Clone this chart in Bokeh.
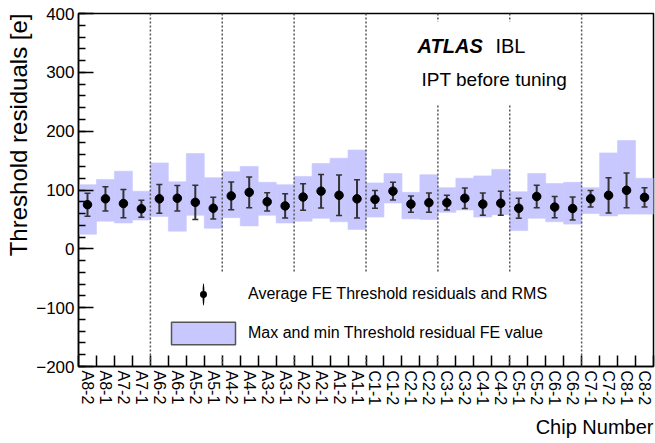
import math
from bokeh.plotting import figure
from bokeh.models import (Range1d, FixedTicker, SingleIntervalTicker, Span,
                          BoxAnnotation, Label, Legend, LegendItem, Title)
from bokeh.embed import file_html
from bokeh.resources import INLINE

# ---------------- data ----------------
chips = ["A8-2", "A8-1", "A7-2", "A7-1", "A6-2", "A6-1", "A5-2", "A5-1",
         "A4-2", "A4-1", "A3-2", "A3-1", "A2-2", "A2-1", "A1-2", "A1-1",
         "C1-1", "C1-2", "C2-1", "C2-2", "C3-1", "C3-2", "C4-1", "C4-2",
         "C5-1", "C5-2", "C6-1", "C6-2", "C7-1", "C7-2", "C8-1", "C8-2"]
mean_res = [75, 85, 77, 68, 85, 86, 79, 69,
            90, 96, 80, 73, 88, 98, 91, 85,
            84, 98, 76, 78.5, 78.5, 86, 76, 77.5,
            69, 89, 71, 68.5, 85, 91, 99.5, 87.5]
rms_res = [19.5, 20.5, 24, 14.5, 24.5, 21.5, 29, 18.5,
           23.5, 26, 15.5, 20.5, 22.5, 28.5, 34.5, 32.5,
           15, 15, 14, 16.5, 12.5, 17.5, 19, 20.5,
           17, 19, 18, 19.5, 14, 30, 29.5, 16.5]
max_res = [109, 118, 132, 98, 146, 114, 162, 121,
           131, 140, 113, 109, 123, 145, 154, 168,
           112, 128, 96, 126, 104, 120, 124, 135,
           97, 128, 111, 113, 104, 163, 184, 120]
min_res = [25, 47, 44, 49, 55, 30, 57, 35,
           53, 39, 57, 44, 47, 52, 46, 33,
           54, 78, 51, 50, 62, 66, 54, 58,
           31, 52, 46, 42, 60, 56, 59, 59]
y_min, y_max = -200, 400
minus_labels = {-100: "\u2212100", -200: "\u2212200"}
x_title = "Chip Number"
y_title = "Threshold residuals [e]"

# ---------------- derived ----------------
n = len(chips)
centers = [i + 0.5 for i in range(n)]
lefts = [float(i) for i in range(n)]
rights = [float(i + 1) for i in range(n)]
edges = [float(i) for i in range(n + 1)]
boundaries = [float(i) for i in range(4, n, 4)]
err_lo = [m - r for m, r in zip(mean_res, rms_res)]
err_hi = [m + r for m, r in zip(mean_res, rms_res)]

FONT = "Liberation Sans"
BAND = "#c8c8ff"
ERR = "#333333"

p = figure(width=655, height=443, x_range=Range1d(0, n), y_range=Range1d(y_min, y_max),
           output_backend="svg", toolbar_location=None,
           min_border_left=78, min_border_right=2, min_border_top=13, min_border_bottom=75)
p.xgrid.visible = False
p.ygrid.visible = False
p.outline_line_color = "black"
p.outline_line_width = 1.5
p.outline_line_alpha = 1.0
p.background_fill_color = "white"
p.border_fill_color = "white"

# band max/min
band = p.quad(left=lefts, right=rights, bottom=min_res, top=max_res,
              fill_color=BAND, line_color=BAND, line_width=0.6)

# module separators
for b in boundaries:
    p.add_layout(Span(location=b, dimension="height", line_color="#555555",
                      line_dash="2 2", line_width=1.5))

# error bars
p.segment(x0=centers, y0=err_lo, x1=centers, y1=err_hi, line_color=ERR, line_width=2)
p.scatter(x=centers + centers, y=err_lo + err_hi, marker="dash", size=6,
          line_color=ERR, line_width=1.5)
p.scatter(x=centers, y=mean_res, marker="circle", size=8.5,
          fill_color="black", line_color="black")

# legend proxies (no visible data)
nan = float("nan")
dot_proxy = p.scatter(x=[nan], y=[nan], marker="circle", size=8,
                      fill_color="black", line_color="white", line_width=4.2)
line_proxy = p.ellipse(x=[nan], y=[nan], width=2, height=24,
                       width_units="screen", height_units="screen",
                       fill_color="black", line_alpha=0)
box_proxy = p.quad(left=[nan], right=[nan], bottom=[nan], top=[nan],
                   fill_color=BAND, line_color="#555555", line_width=1.5)

# white pave behind ATLAS text
p.add_layout(BoxAnnotation(left=17.9, right=26.8, bottom=246, top=386,
                           fill_color="white", fill_alpha=1.0, line_alpha=0))
p.add_layout(Label(x=18.87, y=345, text="ATLAS", text_font=FONT,
                   text_font_style="bold italic", text_font_size="20px",
                   text_color="black", text_baseline="alphabetic"))
p.add_layout(Label(x=23.2, y=345, text="IBL", text_font=FONT,
                   text_font_size="20px", text_color="black", text_baseline="alphabetic"))
p.add_layout(Label(x=19.09, y=287, text="IPT before tuning", text_font=FONT,
                   text_font_size="19px", text_color="black", text_baseline="alphabetic"))

legend = Legend(items=[
    LegendItem(label="Average FE Threshold residuals and RMS", renderers=[dot_proxy, line_proxy]),
    LegendItem(label="Max and min Threshold residual FE value", renderers=[box_proxy]),
], location=(77, 11))
legend.background_fill_color = "white"
legend.background_fill_alpha = 1.0
legend.border_line_alpha = 0
legend.padding = 8
legend.margin = 0
legend.glyph_width = 80
legend.glyph_height = 28
legend.label_height = 28
legend.label_standoff = 5
legend.spacing = 11
legend.label_text_font = FONT
legend.label_text_font_size = "16px"
legend.label_text_color = "black"
p.add_layout(legend)

# x axis
xa = p.xaxis[0]
xa.ticker = FixedTicker(ticks=centers, minor_ticks=edges)
xa.major_label_overrides = {c: chip for c, chip in zip(centers, chips)}
xa.major_label_orientation = "vertical"
xa.major_tick_in = 0
xa.major_tick_out = 0
xa.minor_tick_in = 11
xa.minor_tick_out = 0
xa.minor_tick_line_color = "black"
xa.minor_tick_line_width = 1.5
xa.axis_line_color = "black"
xa.axis_line_width = 1.5
xa.major_label_text_font = FONT
xa.major_label_text_font_size = "16px"
xa.major_label_text_color = "black"
xa.major_label_standoff = 4

# y axis
ya = p.yaxis[0]
ya.ticker = SingleIntervalTicker(interval=100, num_minor_ticks=5)
ya.major_label_overrides = minus_labels
ya.major_tick_in = 15
ya.major_tick_out = 0
ya.minor_tick_in = 7
ya.minor_tick_out = 0
ya.major_tick_line_color = "black"
ya.major_tick_line_width = 1.5
ya.minor_tick_line_color = "black"
ya.minor_tick_line_width = 1.5
ya.axis_line_color = "black"
ya.axis_line_width = 1.5
ya.major_label_text_font = FONT
ya.major_label_text_font_size = "17px"
ya.major_label_text_color = "black"
ya.major_label_standoff = 4

# axis titles at the axis ends (ROOT style)
p.add_layout(Title(text=x_title, align="right", text_font=FONT, text_font_size="20px",
                   text_font_style="normal", text_color="black", standoff=11, offset=0),
             "below")
p.add_layout(Title(text=y_title, align="right", text_font=FONT, text_font_size="24px",
                   text_font_style="normal", text_color="black", standoff=3, offset=0),
             "left")

open("out.html", "w").write(file_html(p, INLINE))
